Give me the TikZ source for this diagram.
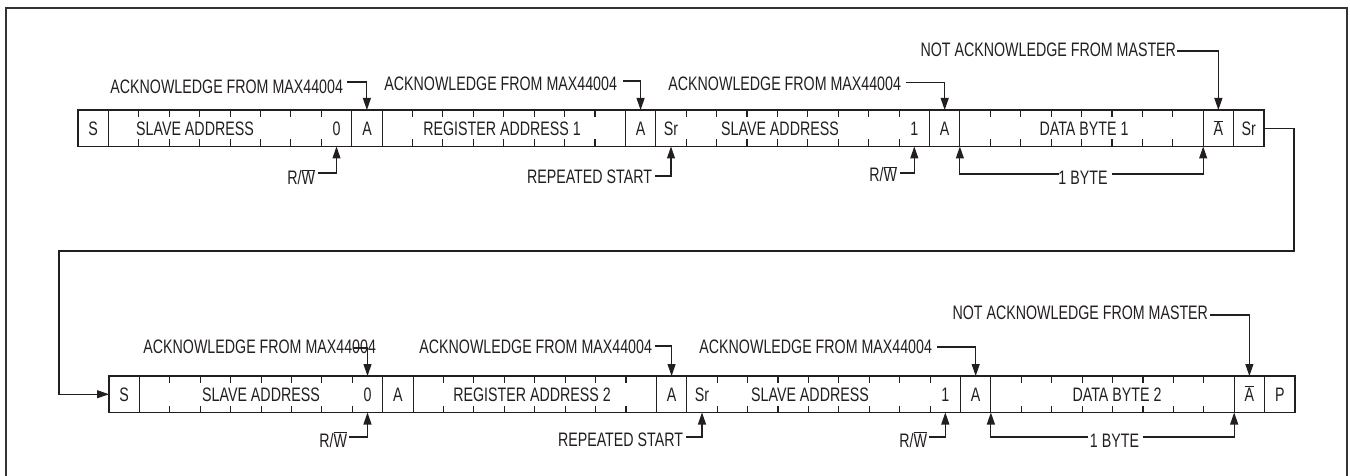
\documentclass[tikz,border=0pt]{standalone}
\usepackage{fontspec}
\setmainfont[FakeStretch=0.73]{Liberation Sans}
\usetikzlibrary{arrows.meta}
\definecolor{ink}{HTML}{231F20}
\definecolor{framec}{HTML}{333333}
\def\cw{30.41pt}
\begin{document}
\begin{tikzpicture}[x=1pt,y=-1pt,
  fbox/.style={draw=ink, line width=1.1pt, anchor=north west, minimum height=36.5pt, inner sep=0pt, outer sep=0pt},
  txt/.style={font=\fontsize{19.5}{21}\selectfont, text=ink, inner sep=0pt, outer sep=0pt},
  ctxt/.style={txt, anchor=base},
  ltxt/.style={txt, anchor=base east},
  arr/.style={draw=ink, line width=1.1pt, -{Triangle[length=12pt,width=8pt]}},
  wire/.style={draw=ink, line width=1.1pt},
  tick/.style={draw=ink, line width=1.1pt}
]
\useasboundingbox (0,0) rectangle (1350,476);
% frame
\draw[framec, line width=2.4pt] (6,477) -- (6,8) -- (1347,8) -- (1347,477);

% ---------- row 1 fields ----------
\node[fbox, minimum width=\cw] (r1s) at (78,110) {};
\node[fbox, minimum width=8*\cw] (r1sa) at (108.41,110) {};
\node[fbox, minimum width=\cw] (r1a1) at (351.69,110) {};
\node[fbox, minimum width=8*\cw] (r1ra) at (382.1,110) {};
\node[fbox, minimum width=\cw] (r1a2) at (625.38,110) {};
\node[fbox, minimum width=9*\cw] (r1srsa) at (655.79,110) {};
\node[fbox, minimum width=\cw] (r1a3) at (929.48,110) {};
\node[fbox, minimum width=8*\cw] (r1db) at (959.89,110) {};
\node[fbox, minimum width=\cw] (r1na) at (1203.17,110) {};
\node[fbox, minimum width=\cw] (r1sr) at (1233.58,110) {};

% ---------- row 2 fields ----------
\node[fbox, minimum width=\cw] (r2s) at (109,376) {};
\node[fbox, minimum width=8*\cw] (r2sa) at (139.41,376) {};
\node[fbox, minimum width=\cw] (r2a1) at (382.69,376) {};
\node[fbox, minimum width=8*\cw] (r2ra) at (413.1,376) {};
\node[fbox, minimum width=\cw] (r2a2) at (656.38,376) {};
\node[fbox, minimum width=9*\cw] (r2srsa) at (686.79,376) {};
\node[fbox, minimum width=\cw] (r2a3) at (960.48,376) {};
\node[fbox, minimum width=8*\cw] (r2db) at (990.89,376) {};
\node[fbox, minimum width=\cw] (r2na) at (1234.17,376) {};
\node[fbox, minimum width=\cw] (r2p) at (1264.58,376) {};

% ---------- ticks ----------
\foreach \f/\n in {r1sa/7, r1ra/7, r1srsa/8, r1db/7, r2sa/7, r2ra/7, r2srsa/8, r2db/7}{
  \foreach \k in {1,...,\n}{
    \draw[tick] ([xshift=\k*\cw]\f.north west) -- ++(0,7);
    \draw[tick] ([xshift=\k*\cw]\f.south west) -- ++(0,-7);
  }
}

% ---------- row 1 cell texts ----------
\node[ctxt] (c1s) at (93.2,136) {S};
\node[ctxt] at (195,136) {SLAVE ADDRESS};
\node[ctxt] (c1zero) at (336.5,136) {0};
\node[ctxt] at (367,136) {A};
\node[ctxt] at (502,136) {REGISTER ADDRESS 1};
\node[ctxt] at (640.6,136) {A};
\node[ctxt] (c1sr) at (671,136) {Sr};
\node[ctxt] at (780,136) {SLAVE ADDRESS};
\node[ctxt] (c1one) at (914.3,136) {1};
\node[ctxt] at (944.7,136) {A};
\node[ctxt] at (1084,136) {DATA BYTE 1};
\node[ctxt] at (1218.4,136) {$\overline{\mbox{A}}$};
\node[ctxt] at (1248.8,136) {Sr};

% ---------- row 2 cell texts ----------
\node[ctxt] at (124.2,401.5) {S};
\node[ctxt] at (261,401.5) {SLAVE ADDRESS};
\node[ctxt] (c2zero) at (367.5,401.5) {0};
\node[ctxt] at (397.9,401.5) {A};
\node[ctxt] at (532,401.5) {REGISTER ADDRESS 2};
\node[ctxt] at (671.6,401.5) {A};
\node[ctxt] (c2sr) at (702,401.5) {Sr};
\node[ctxt] at (810,401.5) {SLAVE ADDRESS};
\node[ctxt] (c2one) at (945.3,401.5) {1};
\node[ctxt] at (975.7,401.5) {A};
\node[ctxt] at (1117,401.5) {DATA BYTE 2};
\node[ctxt] at (1249.4,401.5) {$\overline{\mbox{A}}$};
\node[ctxt] at (1279.8,401.5) {P};

% ---------- row 1 annotations above ----------
\node[ltxt] (t1) at (343,94) {ACKNOWLEDGE FROM MAX44004};
\coordinate (t1s) at (347,82);
\draw[arr] (t1s) -| (r1a1.north);
\node[ltxt] (t2) at (617,91) {ACKNOWLEDGE FROM MAX44004};
\coordinate (t2s) at (623,81);
\draw[arr] (t2s) -| (r1a2.north);
\node[ltxt] (t3) at (901,91) {ACKNOWLEDGE FROM MAX44004};
\coordinate (t3s) at (906,82.5);
\draw[arr] (t3s) -| (r1a3.north);
\node[ltxt] (t4) at (1176,57) {NOT ACKNOWLEDGE FROM MASTER};
\coordinate (t4s) at (1177,51);
\draw[arr] (t4s) -| (r1na.north);

% ---------- row 1 annotations below ----------
\node[ltxt] (b1) at (315,185) {R/$\overline{\mbox{W}}$};
\coordinate (b1s) at (318,173);
\draw[arr] (b1s) -| (c1zero |- r1sa.south);
\node[ltxt] (b2) at (652,183) {REPEATED START};
\coordinate (b2s) at (655,176);
\draw[arr] (b2s) -| (c1sr |- r1srsa.south);
\node[ltxt] (b3) at (897,182) {R/$\overline{\mbox{W}}$};
\coordinate (b3s) at (900,173);
\draw[arr] (b3s) -| (c1one |- r1srsa.south);
\node[ctxt] (b4) at (1083,185) {1 BYTE};
\draw[arr] (1059,174) -| (r1db.south west);
\draw[arr] (1112,174) -| (r1db.south east);

% ---------- row 2 annotations above ----------
\node[ltxt] (t5) at (376,353) {ACKNOWLEDGE FROM MAX44004};
\coordinate (t5s) at (353,348);
\draw[arr] (t5s) -| (c2zero |- r2sa.north);
\node[ltxt] (t6) at (652,353) {ACKNOWLEDGE FROM MAX44004};
\coordinate (t6s) at (655,346);
\draw[arr] (t6s) -| (r2a2.north);
\node[ltxt] (t7) at (932,353) {ACKNOWLEDGE FROM MAX44004};
\coordinate (t7s) at (937,347);
\draw[arr] (t7s) -| (r2a3.north);
\node[ltxt] (t8) at (1208,319.5) {NOT ACKNOWLEDGE FROM MASTER};
\coordinate (t8s) at (1210,315);
\draw[arr] (t8s) -| (r2na.north);

% ---------- row 2 annotations below ----------
\node[ltxt] (b5) at (347,447) {R/$\overline{\mbox{W}}$};
\coordinate (b5s) at (349,437);
\draw[arr] (b5s) -| (c2zero |- r2sa.south);
\node[ltxt] (b6) at (683,446) {REPEATED START};
\coordinate (b6s) at (686,437);
\draw[arr] (b6s) -| (c2sr |- r2srsa.south);
\node[ltxt] (b7) at (927,447) {R/$\overline{\mbox{W}}$};
\coordinate (b7s) at (929,437);
\draw[arr] (b7s) -| (c2one |- r2srsa.south);
\node[ctxt] (b8) at (1114.5,447) {1 BYTE};
\draw[arr] (1088,437) -| (r2db.south west);
\draw[arr] (1143,437) -| (r2db.south east);

% ---------- loop connector ----------
\coordinate (lp1) at (1294,251);
\coordinate (lp2) at (59,251);
\draw[arr] (r1sr.east) -| (lp1) -- (lp2) |- (r2s.west);
\end{tikzpicture}
\end{document}
